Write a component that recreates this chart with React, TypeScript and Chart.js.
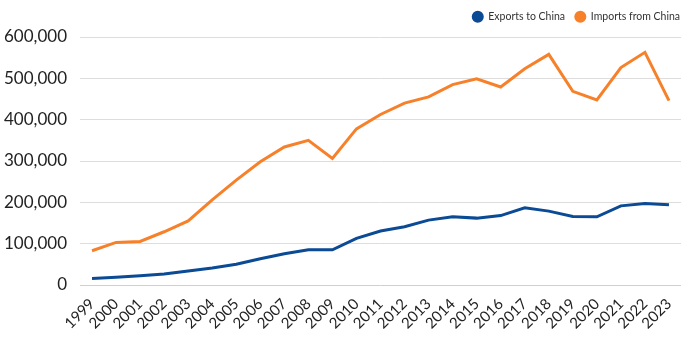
import React, { useEffect, useRef } from "react";
import { Chart, registerables } from "chart.js";

Chart.register(...registerables);

const years: string[] = [
  "1999", "2000", "2001", "2002", "2003", "2004", "2005", "2006", "2007", "2008",
  "2009", "2010", "2011", "2012", "2013", "2014", "2015", "2016", "2017", "2018",
  "2019", "2020", "2021", "2022", "2023",
];

const exportsToChina: number[] = [
  16000, 19000, 22500, 26500, 33800, 41000, 50000, 63500, 75600, 85000,
  85000, 112700, 130500, 140800, 157000, 165000, 161800, 168000, 186700, 178700,
  166000, 165000, 191500, 197000, 194000,
];

const importsFromChina: number[] = [
  82900, 103000, 105500, 128800, 155000, 206000, 253600, 298000, 334000, 350000,
  306000, 377600, 412500, 440000, 455000, 484700, 499000, 479000, 523000, 558000,
  468600, 447700, 526000, 563000, 446000,
];

const yTicks: number[] = [0, 100000, 200000, 300000, 400000, 500000, 600000];

const FONT = "Lato, 'Noto Sans', sans-serif";

const legendTweak = {
  id: "legendTweak",
  beforeUpdate(chart: any) {
    const lg = chart.legend;
    if (!lg || lg._patched) return;
    const fit = lg.fit.bind(lg);
    lg.fit = function () {
      fit();
      this.height += 5;
    };
    lg._patched = true;
  },
  afterLayout(chart: any) {
    const lg = chart.legend;
    if (lg) {
      lg.right += 9;
      lg.left += 9;
    }
  },
};

export default function App() {
  const ref = useRef<HTMLCanvasElement | null>(null);

  useEffect(() => {
    document.body.style.margin = "0";
    const canvas = ref.current;
    if (!canvas) return;
    const chart = new Chart(canvas, {
      type: "line",
      data: {
        labels: years,
        datasets: [
          {
            label: "Exports to China",
            data: exportsToChina,
            borderColor: "#0b4a94",
            backgroundColor: "#0b4a94",
            borderWidth: 3,
            pointRadius: 0,
            tension: 0,
          },
          {
            label: "Imports from China",
            data: importsFromChina,
            borderColor: "#f7812a",
            backgroundColor: "#f7812a",
            borderWidth: 3,
            pointRadius: 0,
            tension: 0,
          },
        ],
      },
      plugins: [legendTweak],
      options: {
        responsive: false,
        animation: false,
        layout: { padding: { left: 0, right: 19, top: 1.5, bottom: 0 } },
        plugins: {
          legend: {
            position: "top",
            align: "end",
            labels: {
              usePointStyle: true,
              pointStyle: "circle",
              boxWidth: 10.5,
              boxHeight: 6.4,
              color: "#333333",
              font: { family: FONT, size: 10.5 },
              padding: 10,
            },
          },
          tooltip: { enabled: false },
        },
        scales: {
          x: {
            offset: true,
            afterFit: (axis: any) => {
              axis.height = 65;
            },
            grid: { display: false },
            border: { display: false },
            ticks: {
              color: "#222222",
              font: { family: FONT, size: 15 },
              minRotation: 45,
              maxRotation: 45,
              autoSkip: false,
              padding: 2,
            },
          },
          y: {
            min: 0,
            max: 600000,
            afterFit: (axis: any) => {
              axis.width = 80;
            },
            afterBuildTicks: (axis: any) => {
              axis.ticks = yTicks.map((v) => ({ value: v }));
            },
            grid: {
              color: (ctx: any) => (ctx.tick && ctx.tick.value === 0 ? "#cfcfcf" : "#dddddd"),
              lineWidth: 1,
              drawTicks: false,
            },
            border: { display: false },
            ticks: {
              color: "#222222",
              font: { family: FONT, size: 17 },
              padding: 13,
              callback: (v: any) => Number(v).toLocaleString("en-US"),
            },
          },
        },
      },
    });
    return () => chart.destroy();
  }, []);

  return (
    <div style={{ width: 700, height: 350 }}>
      <canvas ref={ref} width={700} height={350} />
    </div>
  );
}
